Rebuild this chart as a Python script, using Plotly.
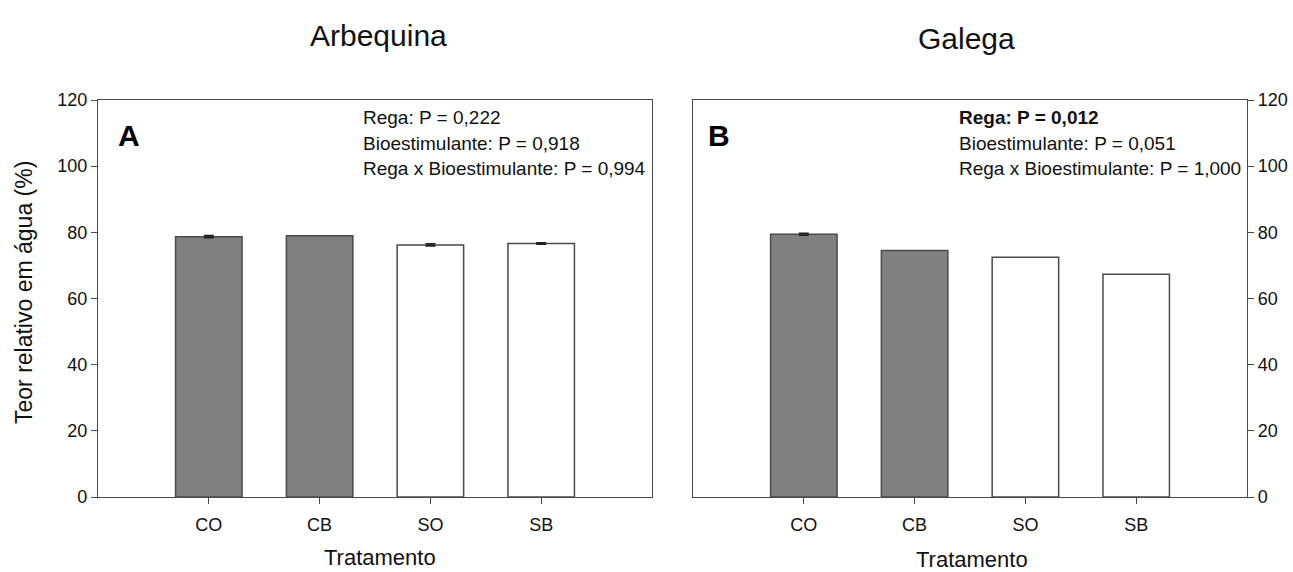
import plotly.graph_objects as go

W, H = 1293, 572

# Treatments and relative water content (%) for each cultivar
tratamentos = ["CO", "CB", "SO", "SB"]
arbequina = [78.7, 79.0, 76.2, 76.6]
arbequina_err = [0.3, None, 0.3, 0.2]
galega = [79.4, 74.5, 72.5, 67.3]
galega_err = [0.3, None, None, None]
bar_colors = ["#808080", "#808080", "#ffffff", "#ffffff"]

y_ticks = [0, 20, 40, 60, 80, 100, 120]

stats_a = ["Rega: P = 0,222", "Bioestimulante: P = 0,918",
           "Rega x Bioestimulante: P = 0,994"]
stats_b = ["<b>Rega: P = 0,012</b>", "Bioestimulante: P = 0,051",
           "Rega x Bioestimulante: P = 1,000"]

FONT = "Liberation Sans, Arial, sans-serif"
LINE = "#4a4a4a"


def px(x):
    return x / W


def py(y):
    return 1 - y / H


fig = go.Figure()

for vals, errs, xa, ya in [(arbequina, arbequina_err, "x", "y"),
                           (galega, galega_err, "x2", "y2")]:
    fig.add_trace(go.Bar(
        x=tratamentos, y=vals, width=0.6,
        marker=dict(color=bar_colors, line=dict(color=LINE, width=1.5)),
        xaxis=xa, yaxis=ya, showlegend=False, hoverinfo="x+y",
    ))
    # standard-error caps only where an error was measured
    keep = [i for i, e in enumerate(errs) if e is not None]
    fig.add_trace(go.Scatter(
        x=[tratamentos[i] for i in keep], y=[vals[i] for i in keep],
        mode="markers", marker=dict(size=1, opacity=0),
        error_y=dict(type="data", array=[errs[i] for i in keep],
                     visible=True, color="#222222", thickness=1.6, width=5),
        xaxis=xa, yaxis=ya, showlegend=False, hoverinfo="skip",
    ))

ydom = [py(497), py(100)]
xcommon = dict(range=[-1, 4], showline=True, mirror=True, linecolor=LINE,
               linewidth=1.3, ticks="outside", ticklen=6, tickcolor=LINE,
               showgrid=False, zeroline=False, ticklabelstandoff=5,
               automargin=False, type="category",
               tickfont=dict(family=FONT, size=18, color="#111111"),
               fixedrange=True)
ycommon = dict(range=[0, 120], tickvals=y_ticks, showline=True, mirror=True,
               linecolor=LINE, linewidth=1.3, ticks="outside", ticklen=6,
               tickcolor=LINE, showgrid=False, zeroline=False,
               automargin=False,
               tickfont=dict(family=FONT, size=18, color="#111111"),
               fixedrange=True)

fig.update_layout(
    width=W, height=H,
    margin=dict(l=0, r=0, t=0, b=0, pad=0, autoexpand=False),
    paper_bgcolor="white", plot_bgcolor="white",
    bargap=0.4,
    xaxis=dict(domain=[px(98), px(652)], anchor="y", **xcommon),
    yaxis=dict(domain=ydom, anchor="x", side="left", **ycommon),
    xaxis2=dict(domain=[px(693), px(1247)], anchor="y2", **xcommon),
    yaxis2=dict(domain=ydom, anchor="x2", side="right", **ycommon),
)

ann = []


def text(x, y, s, size, xanchor="center", **kw):
    d = dict(x=px(x), y=py(y), xref="paper", yref="paper", text=s,
             showarrow=False, xanchor=xanchor, yanchor="middle",
             font=dict(family=FONT, size=size,
                       color=kw.pop("color", "#111111")))
    d.update(kw)
    ann.append(d)


# Cultivar titles
text(378, 36, "Arbequina", 30)
text(966, 38, "Galega", 30)

# Panel letters
text(129, 135, "<b>A</b>", 30, color="#000000")
text(719, 135, "<b>B</b>", 30, color="#000000")

# ANOVA results
for i, s in enumerate(stats_a):
    text(361, 118 + 25.5 * i, s, 19, xanchor="left")
for i, s in enumerate(stats_b):
    text(957, 118 + 25.5 * i, s, 19, xanchor="left")

# Axis titles
text(380, 557, "Tratamento", 22)
text(972, 559, "Tratamento", 22)
text(24, 293, "Teor relativo em água (%)", 23, textangle=-90)

fig.update_layout(annotations=ann)

fig.write_html("out.html")
